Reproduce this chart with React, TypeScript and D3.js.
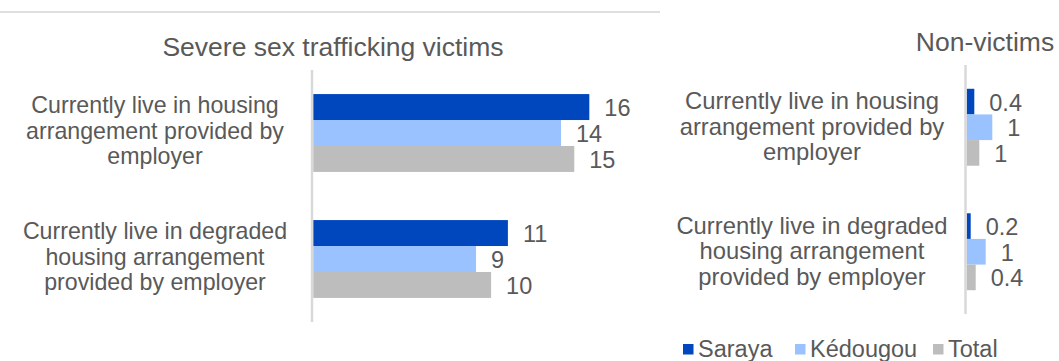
import React from "react";
import * as d3 from "d3";

const seriesNames = ["Saraya", "Kédougou", "Total"];
const seriesColors = ["#0047BD", "#99C2FF", "#BDBDBD"];

const leftCategories = [
  ["Currently live in housing", "arrangement provided by", "employer"],
  ["Currently live in degraded", "housing arrangement", "provided by employer"],
];
const rightCategories = [
  ["Currently live in housing", "arrangement provided by", "employer"],
  ["Currently live in degraded", "housing arrangement", "provided by employer"],
];

// values per category: [Saraya, Kédougou, Total]
const victimsValues = [
  [15.6, 14.0, 14.75],
  [11.0, 9.2, 10.05],
];
const victimsLabels = [
  ["16", "14", "15"],
  ["11", "9", "10"],
];
const nonVictimsValues = [
  [0.38, 1.28, 0.63],
  [0.2, 0.95, 0.45],
];
const nonVictimsLabels = [
  ["0.4", "1", "1"],
  ["0.2", "1", "0.4"],
];

const TEXT = "#595959";
const FONT = "'Liberation Sans', Arial, sans-serif";

type PanelProps = {
  title: string;
  titleX: number;
  titleY: number;
  titleSize: number;
  axisX: number;
  pxPerUnit: number;
  maxVal: number;
  yTop: number;
  yBottom: number;
  values: number[][];
  labels: string[][];
  cats: string[][];
  catX: number;
  catSize: number;
  catLine: number;
  catDy: number;
};

function Panel(p: PanelProps) {
  const x = d3
    .scaleLinear()
    .domain([0, p.maxVal])
    .range([p.axisX + 1.2, p.axisX + 1.2 + p.maxVal * p.pxPerUnit]);
  const groupIdx = p.values.map((_, i) => String(i));
  const y = d3
    .scaleBand<string>()
    .domain(groupIdx)
    .range([p.yTop, p.yBottom])
    .paddingInner(0.382)
    .paddingOuter(0.191);
  const inner = d3
    .scaleBand<string>()
    .domain(seriesNames)
    .range([0, y.bandwidth()])
    .padding(0);
  return (
    <g>
      <text
        x={p.titleX}
        y={p.titleY}
        textAnchor="middle"
        fontSize={p.titleSize}
        fill={TEXT}
        fontFamily={FONT}
      >
        {p.title}
      </text>
      {p.values.map((row, gi) => {
        const g0 = y(String(gi))!;
        return (
          <g key={gi}>
            {row.map((v, si) => {
              const yy = g0 + inner(seriesNames[si])!;
              const h = inner.bandwidth();
              return (
                <g key={si}>
                  <rect
                    x={x(0)}
                    y={yy}
                    width={x(v) - x(0)}
                    height={h}
                    fill={seriesColors[si]}
                  />
                  <text
                    x={x(v) + 15}
                    y={yy + h / 2 + 1}
                    dominantBaseline="central"
                    fontSize={23.5}
                    fill={TEXT}
                    fontFamily={FONT}
                  >
                    {p.labels[gi][si]}
                  </text>
                </g>
              );
            })}
            <text
              textAnchor="middle"
              fontSize={p.catSize}
              fill={TEXT}
              fontFamily={FONT}
            >
              {p.cats[gi].map((line, li) => (
                <tspan
                  key={li}
                  x={p.catX}
                  y={
                    g0 +
                    y.bandwidth() / 2 +
                    p.catDy +
                    (li - (p.cats[gi].length - 1) / 2) * p.catLine
                  }
                  dominantBaseline="central"
                >
                  {line}
                </tspan>
              ))}
            </text>
          </g>
        );
      })}
      <line
        x1={p.axisX}
        x2={p.axisX}
        y1={p.yTop}
        y2={p.yBottom}
        stroke="#D9D9D9"
        strokeWidth={2.5}
      />
    </g>
  );
}

export default function App() {
  const legendX = [683, 795, 933];
  return (
    <svg
      width={1059}
      height={361}
      style={{ position: "absolute", left: 0, top: 0, background: "#fff" }}
    >
      <line x1={0} x2={660} y1={12} y2={12} stroke="#BFBFBF" strokeWidth={1.2} />
      <Panel
        title="Severe sex trafficking victims"
        titleX={333}
        titleY={55.5}
        titleSize={26.5}
        axisX={312}
        pxPerUnit={17.7}
        maxVal={20}
        yTop={70}
        yBottom={322}
        values={victimsValues}
        labels={victimsLabels}
        cats={leftCategories}
        catX={155}
        catSize={23.2}
        catLine={25.5}
        catDy={-2.5}
      />
      <Panel
        title="Non-victims"
        titleX={985}
        titleY={51}
        titleSize={26.5}
        axisX={965.5}
        pxPerUnit={20}
        maxVal={2}
        yTop={65}
        yBottom={314}
        values={nonVictimsValues}
        labels={nonVictimsLabels}
        cats={rightCategories}
        catX={812}
        catSize={23.8}
        catLine={25.5}
        catDy={-1}
      />
      {seriesNames.map((s, i) => (
        <g key={s}>
          <rect x={legendX[i]} y={344} width={10.5} height={10.5} fill={seriesColors[i]} />
          <text
            x={legendX[i] + 15}
            y={357}
            fontSize={23.5}
            fill={TEXT}
            fontFamily={FONT}
          >
            {s}
          </text>
        </g>
      ))}
    </svg>
  );
}
